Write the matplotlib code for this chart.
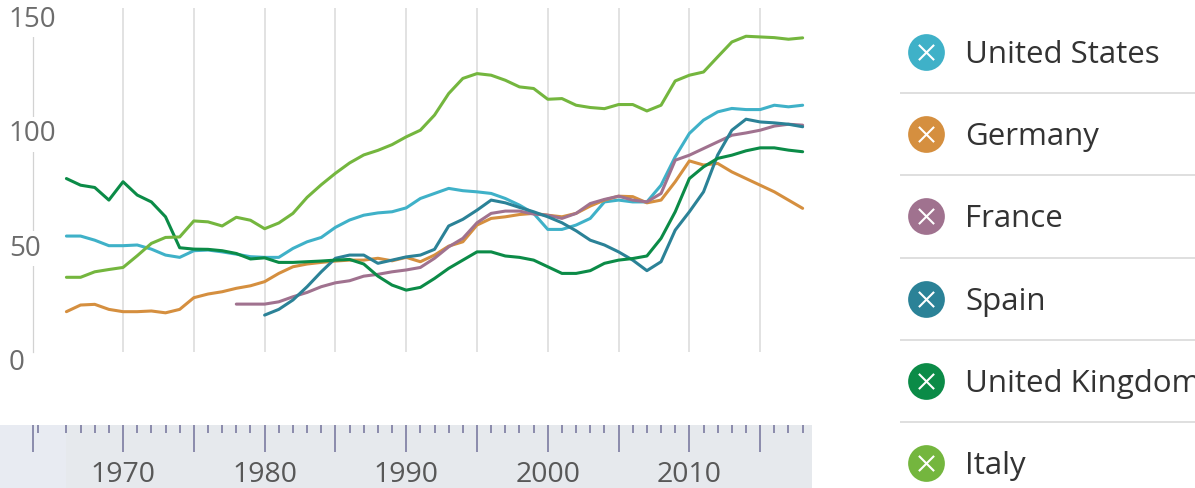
import matplotlib.pyplot as plt
import matplotlib.transforms as mtransforms
import numpy as np

plt.rcParams["font.family"] = ["Open Sans", "DejaVu Sans"]

nan = np.nan
years = np.arange(1966, 2019)

united_states = [50.6, 50.6, 48.8, 46.4, 46.4, 46.7, 44.9, 42.3, 41.3, 44.2,
                 44.5, 43.7, 42.7, 41.6, 41.3, 41.3, 45.2, 48.1, 50.0, 54.4,
                 57.6, 59.7, 60.7, 61.2, 62.9, 67.0, 69.2, 71.4, 70.4, 69.9,
                 69.2, 67.0, 64.1, 60.5, 53.5, 53.5, 55.4, 58.3, 65.5, 66.3,
                 65.5, 65.5, 72.8, 85.2, 95.4, 101.2, 104.8, 106.3, 105.8, 105.8,
                 107.7, 107.0, 107.7]
germany = [17.6, 20.5, 20.8, 18.6, 17.6, 17.6, 17.9, 17.1, 18.6, 23.7,
           25.3, 26.3, 27.8, 28.9, 30.7, 34.3, 37.2, 38.4, 39.1, 39.7,
           40.1, 40.1, 40.9, 39.8, 41.3, 39.4, 42.3, 46.2, 48.1, 55.4,
           58.3, 59.0, 60.0, 60.5, 59.7, 59.0, 60.5, 63.7, 66.3, 68.0,
           67.8, 65.1, 66.3, 74.3, 83.4, 81.6, 82.3, 78.6, 75.7, 72.8,
           69.9, 66.3, 62.7]
france = [nan] * 12 + [
    20.9, 20.9, 20.9, 21.9, 24.1, 26.0, 28.5, 30.2, 31.1, 33.1,
    33.9, 35.0, 35.8, 36.9, 40.9, 45.9, 49.6, 56.4, 60.5, 61.5,
    61.5, 60.2, 59.7, 58.3, 60.5, 64.8, 66.6, 68.0, 66.3, 65.5,
    69.2, 83.7, 85.9, 88.8, 91.7, 94.6, 95.6, 96.8, 98.6, 99.4,
    99.0]
spain = [nan] * 14 + [
    16.1, 18.6, 22.7, 28.5, 35.0, 40.9, 42.3, 42.3, 38.7, 40.1,
    41.5, 42.3, 44.8, 55.0, 57.9, 61.9, 66.3, 65.1, 63.1, 61.2,
    59.0, 56.4, 52.9, 48.8, 46.7, 43.7, 40.1, 35.5, 39.4, 53.2,
    61.2, 69.9, 86.0, 96.8, 101.6, 100.4, 100.0, 99.4, 98.3]
united_kingdom = [75.7, 72.8, 71.8, 66.3, 74.3, 68.5, 65.5, 59.0, 45.5, 44.9,
                  44.8, 44.2, 43.0, 40.6, 41.1, 39.1, 39.1, 39.4, 39.7, 40.1,
                  40.4, 38.4, 33.1, 29.2, 27.0, 28.2, 32.1, 36.5, 40.1, 43.7,
                  43.7, 41.9, 41.3, 40.1, 37.2, 34.3, 34.3, 35.5, 38.7, 40.1,
                  40.8, 41.9, 49.6, 61.2, 75.7, 80.8, 84.5, 85.9, 87.8, 89.1,
                  89.1, 88.1, 87.4]
italy = [32.6, 32.6, 35.0, 36.0, 36.9, 42.0, 47.4, 50.0, 50.2, 57.2,
         56.8, 55.0, 58.8, 57.5, 53.8, 56.3, 60.5, 67.5, 73.0, 78.0,
         82.5, 86.0, 88.0, 90.5, 93.9, 96.8, 103.4, 112.8, 119.4, 121.5,
         120.8, 118.6, 115.7, 115.0, 110.3, 110.6, 107.7, 106.7, 106.2, 108.0,
         108.0, 105.2, 107.7, 118.3, 120.8, 122.2, 128.8, 135.3, 137.8, 137.5,
         137.2, 136.5, 137.1]

countries = ["United States", "Germany", "France", "Spain", "United Kingdom", "Italy"]
series = [united_states, germany, france, spain, united_kingdom, italy]
colors = ["#3fb1c8", "#d58f3f", "#a0728f", "#2b8297", "#0b8b47", "#74b63e"]

y_ticks = [0, 50, 100, 150]
grid_years = list(range(1970, 2016, 5))
label_years = [1970, 1980, 1990, 2000, 2010]

W, H = 1195, 488


def box(left, top, right, bottom):
    """Pixel box (from top-left) to figure fraction rect."""
    return [left / W, 1 - bottom / H, (right - left) / W, (bottom - top) / H]


fig = plt.figure(figsize=(W / 100, H / 100), dpi=100, facecolor="white")

# main plot
ax = fig.add_axes(box(33, 8.3, 810, 352))
ax.set_xlim(1963.64, 2018.52)
ax.set_ylim(0, 150)
for values, color in zip(series, colors):
    ax.plot(years, values, color=color, lw=2.2,
            solid_joinstyle="round", solid_capstyle="round", zorder=3)
ax.set_xticks(grid_years)
ax.set_yticks([])
ax.grid(axis="x", color="#dadada", lw=1.1)
ax.tick_params(length=0, labelbottom=False)
for side in ("top", "right", "bottom"):
    ax.spines[side].set_visible(False)
ax.spines["left"].set_color("#d2d2d2")
ax.spines["left"].set_linewidth(0.9)
for v in y_ticks:
    ax.annotate(str(v), xy=(0, v), xycoords=("axes fraction", "data"),
                xytext=(-17.5, -13.2), textcoords="offset points",
                ha="left", va="baseline", fontsize=20, color="#6c6c6c",
                bbox=dict(fc="white", ec="none", pad=2.5),
                annotation_clip=False, zorder=6)

# navigator strip
nav = fig.add_axes(box(0, 425, 812, 488))
nav_left, nav_right = 1961.31, 2018.66
nav.set_xlim(nav_left, nav_right)
nav.set_ylim(0, 1)
nav.set_facecolor("#e6e9ed")
nav.axvspan(nav_left, years[0], color="#e8ebf2", lw=0)
for spine in nav.spines.values():
    spine.set_visible(False)
nav.set_yticks([])
nav.set_xticks([1963.64] + grid_years)
nav.set_xticks([y for y in range(1964, 2019) if y % 5], minor=True)
nav.tick_params(axis="x", which="both", direction="in", top=True, bottom=False,
                labelbottom=False, labeltop=False, color="#72729a", width=1.1)
nav.tick_params(axis="x", which="major", length=19.5)
nav.tick_params(axis="x", which="minor", length=5.8)
trans = mtransforms.blended_transform_factory(nav.transData, nav.transAxes)
for yr in label_years:
    nav.text(yr, 0.09, str(yr), transform=trans, ha="center", va="baseline",
             fontsize=20.5, color="#585858")

# legend
leg = fig.add_axes(box(880, 0, 1195, 488))
leg.set_xlim(880, 1195)
leg.set_ylim(488, 0)
leg.axis("off")
row_h = 82.2
for i, (name, color) in enumerate(zip(countries, colors)):
    yc = 52 + row_h * i
    leg.scatter([926], [yc], s=700, color=color, lw=0, zorder=3)
    leg.scatter([926], [yc], s=120, marker="x", color="white", lw=1.5, zorder=4)
    leg.text(965, yc + 11, name, ha="left", va="baseline", fontsize=22.5,
             color="#333333", clip_on=False)
    if i < len(countries) - 1:
        leg.plot([900, 1195], [yc + row_h / 2, yc + row_h / 2],
                 color="#dcdcdc", lw=1.3, solid_capstyle="butt")

fig.savefig("out.png", dpi=100, facecolor="white")
